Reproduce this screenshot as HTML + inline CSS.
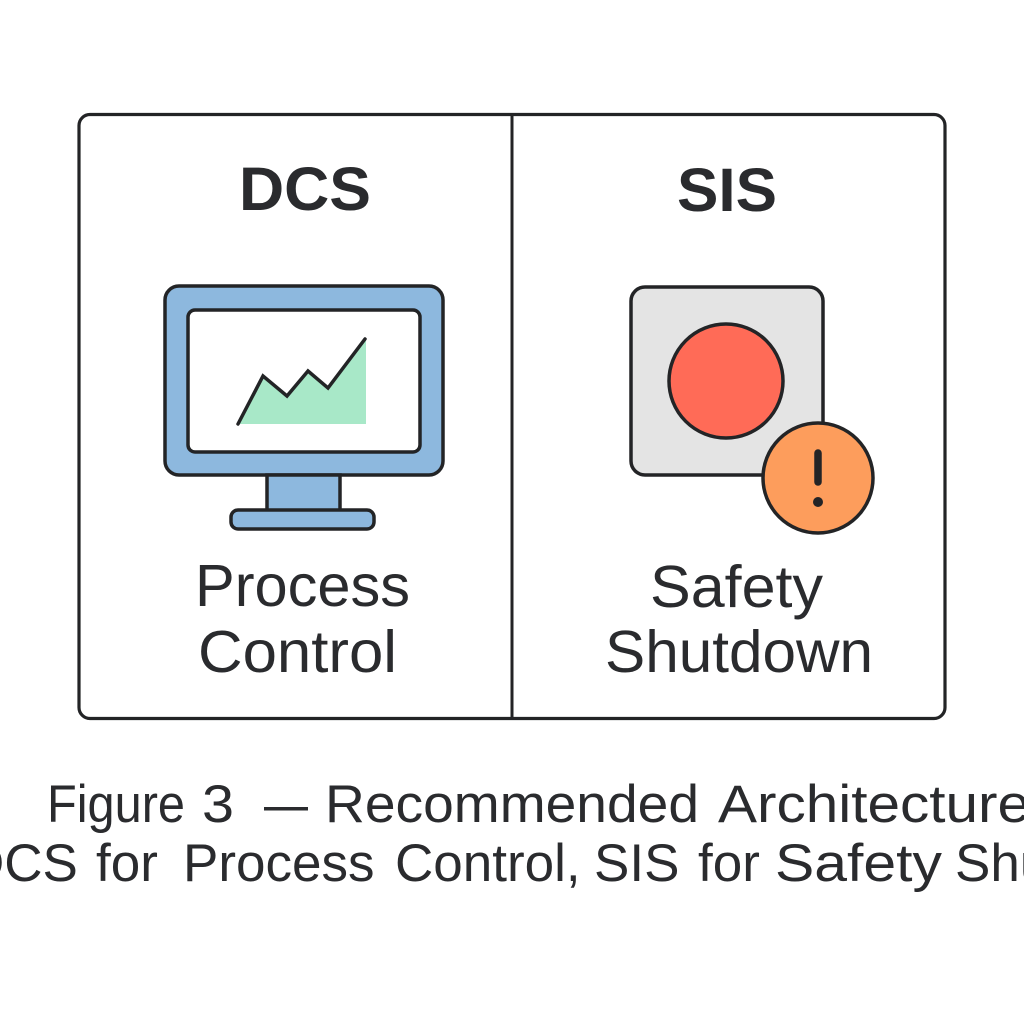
<!DOCTYPE html>
<html>
<head>
<meta charset="utf-8">
<style>
  html, body { margin: 0; padding: 0; background: #ffffff; }
  svg { display: block; }
  text { font-family: "Liberation Sans", sans-serif; fill: #2a2b2e; }
</style>
</head>
<body>
<svg width="1024" height="1024" viewBox="0 0 1024 1024" xmlns="http://www.w3.org/2000/svg">
  <rect x="0" y="0" width="1024" height="1024" fill="#ffffff"/>

  <!-- Outer frame -->
  <rect x="79" y="114.5" width="866" height="604" rx="11" ry="11" fill="#ffffff" stroke="#232426" stroke-width="3.2"/>
  <line x1="512" y1="114.5" x2="512" y2="718.5" stroke="#232426" stroke-width="3"/>

  <!-- Titles -->
  <text x="239" y="210" font-size="61" font-weight="bold" textLength="132" lengthAdjust="spacingAndGlyphs">DCS</text>
  <text x="677" y="211" font-size="61" font-weight="bold" textLength="100" lengthAdjust="spacingAndGlyphs">SIS</text>

  <!-- Monitor -->
  <rect x="165" y="286" width="278" height="189" rx="14" ry="14" fill="#8db8de" stroke="#232426" stroke-width="3.5"/>
  <rect x="188" y="310" width="232" height="142" rx="7" ry="7" fill="#ffffff" stroke="#232426" stroke-width="3.5"/>
  <rect x="267" y="475" width="73" height="36" fill="#8db8de" stroke="#232426" stroke-width="3.5"/>
  <rect x="231" y="510" width="143" height="19" rx="7" ry="7" fill="#8db8de" stroke="#232426" stroke-width="3.5"/>
  <!-- Chart -->
  <polygon points="238,424 263,376 287,396 308,371 328,388 366,339 366,424" fill="#a8e8c8"/>
  <polyline points="238,424 263,376 287,396 308,371 328,388 365,339" fill="none" stroke="#232426" stroke-width="3.5" stroke-linejoin="miter" stroke-linecap="round"/>

  <!-- Emergency button -->
  <rect x="631" y="287" width="192" height="188" rx="14" ry="14" fill="#e4e4e4" stroke="#232426" stroke-width="3.5"/>
  <circle cx="726" cy="381" r="57" fill="#ff6b57" stroke="#232426" stroke-width="3.5"/>
  <circle cx="818" cy="478" r="55" fill="#fd9d5c" stroke="#232426" stroke-width="3.5"/>
  <line x1="818" y1="453" x2="818" y2="482" stroke="#232426" stroke-width="7.5" stroke-linecap="round"/>
  <circle cx="818" cy="502" r="5" fill="#232426"/>

  <!-- Panel labels -->
  <text x="195" y="606" font-size="59" textLength="215" lengthAdjust="spacingAndGlyphs">Process</text>
  <text x="198" y="672" font-size="59" textLength="199" lengthAdjust="spacingAndGlyphs">Control</text>
  <text x="650" y="607" font-size="59" textLength="173" lengthAdjust="spacingAndGlyphs">Safety</text>
  <text x="605" y="672" font-size="59" textLength="268" lengthAdjust="spacingAndGlyphs">Shutdown</text>

  <!-- Caption line 1 -->
  <text x="47" y="822" font-size="53" textLength="138" lengthAdjust="spacingAndGlyphs">Figure</text>
  <text x="202" y="822" font-size="53" textLength="32" lengthAdjust="spacingAndGlyphs">3</text>
  <text x="264" y="822" font-size="53" textLength="44" lengthAdjust="spacingAndGlyphs">—</text>
  <text x="325" y="822" font-size="53" textLength="374" lengthAdjust="spacingAndGlyphs">Recommended</text>
  <text x="718" y="822" font-size="53" textLength="312" lengthAdjust="spacingAndGlyphs">Architecture</text>

  <!-- Caption line 2 -->
  <text x="-34" y="881" font-size="53">DCS</text>
  <text x="96" y="881" font-size="53">for</text>
  <text x="183" y="881" font-size="53">Process</text>
  <text x="395" y="881" font-size="53">Control,</text>
  <text x="594" y="881" font-size="53">SIS</text>
  <text x="698" y="881" font-size="53">for</text>
  <text x="775" y="881" font-size="53" textLength="167" lengthAdjust="spacingAndGlyphs">Safety</text>
  <text x="955" y="881" font-size="53">Shutdown</text>
</svg>
</body>
</html>
